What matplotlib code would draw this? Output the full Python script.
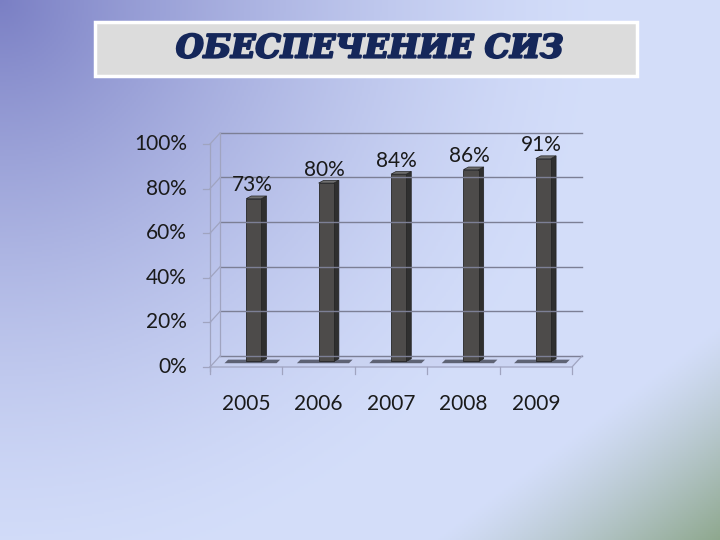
import numpy as np
import matplotlib
matplotlib.use('Agg')
import matplotlib.pyplot as plt
import matplotlib.patheffects as pe
from matplotlib.patches import Polygon, Rectangle

#------------------
# Data
#------------------

years = ['2005', '2006', '2007', '2008', '2009']
values = [73, 80, 84, 86, 91]
yticks = [0, 20, 40, 60, 80, 100]
title = 'ОБЕСПЕЧЕНИЕ СИЗ'

plt.rcParams['font.family'] = ['Lato', 'DejaVu Sans']

fig = plt.figure(figsize=(7.2, 5.4), dpi=100)

#------------------
# Background gradient
#------------------

bg = fig.add_axes([0, 0, 1, 1])
h, w = 270, 360
yy, xx = np.mgrid[0:h, 0:w]
xx = xx / (w - 1)
yy = yy / (h - 1)
light = np.array([0.83, 0.87, 0.98])
dark = np.array([0.48, 0.50, 0.77])
green = np.array([0.56, 0.66, 0.56])
d = np.clip(1 - np.sqrt((xx / 0.85) ** 2 + (yy / 1.1) ** 2), 0, 1)
t = d ** 1.5
img = light * (1 - t[..., None]) + dark * t[..., None]
g = np.clip((xx + yy - 1.6) / 0.4, 0, 1) ** 1.2
img = img * (1 - g[..., None]) + green * g[..., None]
bg.imshow(img, extent=[0, 1, 0, 1], aspect='auto', origin='upper')
bg.set_xlim(0, 1)
bg.set_ylim(0, 1)
bg.axis('off')

#------------------
# Title box
#------------------

bg.add_patch(Rectangle((95 / 720, 1 - 76 / 540), 542 / 720, 54 / 540,
                       facecolor='#dcdcdc', edgecolor='white', lw=2.5))
bg.text(370 / 720, 1 - 49 / 540, title, ha='center', va='center',
        fontsize=23, fontweight='bold', fontstyle='italic',
        family=['DejaVu Serif'], color='#15275a',
        path_effects=[pe.withStroke(linewidth=1.6, foreground='#15275a')])

#------------------
# Pseudo-3D chart
#------------------

ax = fig.add_axes([210 / 720, 1 - 367 / 540, 372 / 720, 235 / 540])
ax.patch.set_alpha(0)
ax.set_xlim(-0.5, 4.638)
ax.set_ylim(0, 105.4)
ax.axis('off')

dx, dy = 0.14, 5.0
grid_c = '#7c7f95'
wall_c = '#a0a4c0'

for v in yticks:
    ax.plot([-0.5 + dx, 4.5 + dx], [v + dy, v + dy], color=grid_c, lw=1, clip_on=False)
    ax.plot([-0.5, -0.5 + dx], [v, v + dy], color=wall_c, lw=0.9, clip_on=False)
    ax.plot([-0.59, -0.5], [v, v], color=wall_c, lw=0.9, clip_on=False)
    ax.text(-0.82, v, f'{v}%', ha='right', va='center', fontsize=15, color='#1a1a1a')

ax.plot([-0.5 + dx, -0.5 + dx], [dy, 100 + dy], color=wall_c, lw=0.9, clip_on=False)
ax.plot([-0.5, -0.5], [-2, 100], color=wall_c, lw=0.9, clip_on=False)

# floor
ax.add_patch(Polygon([[-0.5, 0], [4.5, 0], [4.5 + dx, dy], [-0.5 + dx, dy]],
                     closed=True, facecolor='#c8d0ef', edgecolor='none', alpha=0.6))
ax.plot([-0.5, 4.5, 4.5 + dx], [0, 0, dy], color=wall_c, lw=0.9, clip_on=False)
for i in range(6):
    ax.plot([i - 0.5, i - 0.5], [0, -3], color=wall_c, lw=0.9, clip_on=False)

# bars
bw, bd = 0.21, 0.07
for i, v in enumerate(values):
    x0 = i + 0.0
    y0 = dy / 2
    # shadow on floor
    ax.add_patch(Polygon([[i - 0.3, y0 - 0.8], [i + 0.42, y0 - 0.8],
                          [i + 0.47, y0 + 0.8], [i - 0.25, y0 + 0.8]],
                         closed=True, facecolor='#3a3d4a', edgecolor='none', alpha=0.75))
    # side
    ax.add_patch(Polygon([[x0 + bw, y0], [x0 + bw + bd, y0 + 1.2],
                          [x0 + bw + bd, v + y0 + 1.2], [x0 + bw, v + y0]],
                         closed=True, facecolor='#2f2f2f', edgecolor='#222222', lw=0.5))
    # front
    ax.add_patch(Rectangle((x0, y0), bw, v, facecolor='#4d4b4a',
                           edgecolor='#262626', lw=0.6))
    # top
    ax.add_patch(Polygon([[x0, v + y0], [x0 + bw, v + y0],
                          [x0 + bw + bd, v + y0 + 1.2], [x0 + bd, v + y0 + 1.2]],
                         closed=True, facecolor='#6e6e6e', edgecolor='#262626', lw=0.5))
    ax.text(i + 0.08, v + 8.5, f'{v}%', ha='center', va='center',
            fontsize=15, color='#1a1a1a')
    ax.text(i, -16.5, years[i], ha='center', va='center', fontsize=15, color='#1a1a1a')

fig.savefig('out.png', dpi=100)
